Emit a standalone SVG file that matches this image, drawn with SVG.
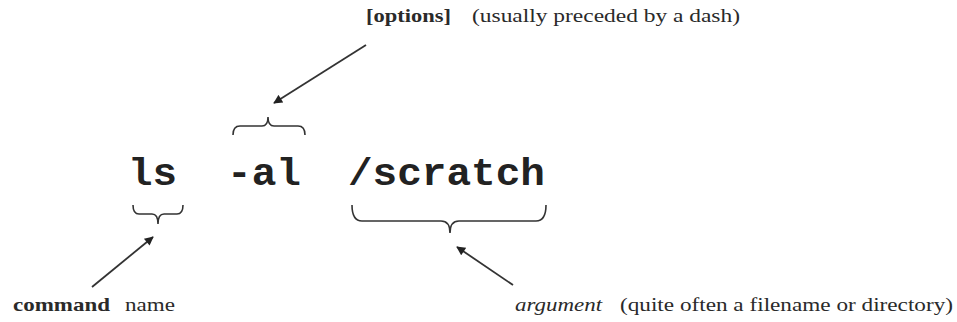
<svg xmlns="http://www.w3.org/2000/svg" width="957" height="322" viewBox="0 0 957 322">
<defs>
<marker id="ah" viewBox="0 0 10 10" refX="9" refY="5" markerWidth="11" markerHeight="9" markerUnits="userSpaceOnUse" orient="auto">
<path d="M0,0 L10,5 L0,10 z" fill="#222"/>
</marker>
</defs>
<style>
.lbl{font-family:"Liberation Serif",serif;font-size:19px;fill:#2a2a2a}
.b{font-weight:bold}
.i{font-style:italic}
.cmd{font-family:"Liberation Mono",monospace;font-weight:bold;font-size:38px;fill:#222}
.brace{fill:none;stroke:#333;stroke-width:1.6}
.arr{fill:none;stroke:#333;stroke-width:1.8;marker-end:url(#ah)}
</style>
<rect width="957" height="322" fill="#fff"/>
<g id="options-label">
<text class="lbl b" x="366" y="22" textLength="85" lengthAdjust="spacingAndGlyphs">[options]</text>
<text class="lbl" x="472" y="22" textLength="268" lengthAdjust="spacingAndGlyphs">(usually preceded by a dash)</text>
</g>
<g id="command">
<text class="cmd" x="128" y="185" textLength="49" lengthAdjust="spacingAndGlyphs">ls</text>
</g>
<g id="options">
<text class="cmd" x="227" y="185" textLength="74" lengthAdjust="spacingAndGlyphs">-al</text>
</g>
<g id="argument">
<text class="cmd" x="348" y="185" textLength="197" lengthAdjust="spacingAndGlyphs">/scratch</text>
</g>
<g id="command-label">
<text class="lbl b" x="13" y="311" textLength="97" lengthAdjust="spacingAndGlyphs">command</text>
<text class="lbl" x="125" y="311" textLength="50" lengthAdjust="spacingAndGlyphs">name</text>
</g>
<g id="argument-label">
<text class="lbl i" x="515" y="311" textLength="87" lengthAdjust="spacingAndGlyphs">argument</text>
<text class="lbl" x="620" y="311" textLength="333" lengthAdjust="spacingAndGlyphs">(quite often a filename or directory)</text>
</g>
<g id="braces">
<path class="brace" d="M233,135 Q233,126 240,126 L262,126 Q268,126 268,117 Q268,126 274,126 L298,126 Q305,126 305,135"/>
<path class="brace" d="M133,205 Q133,214 139,214 L152,214 Q158,214 158,224 Q158,214 164,214 L177,214 Q183,214 183,205"/>
<path class="brace" d="M352,205 Q352,221 362,221 L441,221 Q450,221 450,233 Q450,221 459,221 L536,221 Q546,221 546,205"/>
</g>
<g id="connectors">
<line class="arr" x1="366" y1="45" x2="274" y2="103"/>
<line class="arr" x1="92" y1="287" x2="153" y2="237"/>
<line class="arr" x1="513" y1="285" x2="457" y2="247"/>
</g>
</svg>
